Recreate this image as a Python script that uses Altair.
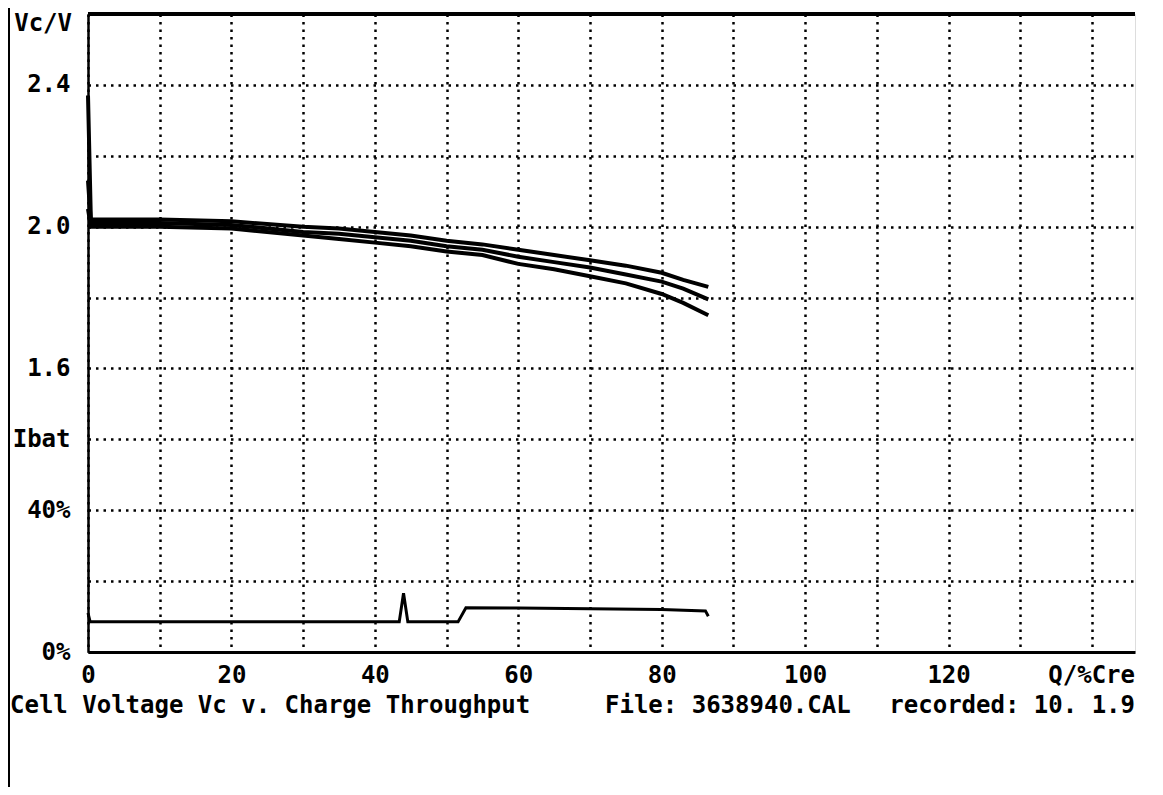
import altair as alt
import pandas as pd

# ---- data ----
q_volt = [0, 0.4, 10, 20, 30, 35, 40, 45, 50, 55, 60, 65, 70, 75, 80, 83, 86.5]
v_cell1 = [2.37, 2.02, 2.02, 2.015, 2.0, 1.995, 1.985, 1.975, 1.96, 1.95, 1.935, 1.92, 1.905, 1.89, 1.87, 1.85, 1.83]
v_cell2 = [2.13, 2.01, 2.01, 2.005, 1.985, 1.98, 1.97, 1.96, 1.945, 1.935, 1.915, 1.9, 1.885, 1.865, 1.845, 1.825, 1.795]
v_cell3 = [2.05, 2.0, 2.0, 1.995, 1.975, 1.965, 1.955, 1.945, 1.93, 1.92, 1.895, 1.88, 1.86, 1.84, 1.81, 1.785, 1.75]

q_curr = [0, 0.3, 43.4, 44.0, 44.6, 51.6, 52.7, 60, 70, 80, 86.1, 86.5]
i_pct = [11, 8.5, 8.5, 16.6, 8.5, 8.5, 12.5, 12.4, 12.2, 12.0, 11.6, 10.1]

x_grid = [0, 10, 20, 30, 40, 50, 60, 70, 80, 90, 100, 110, 120, 130, 140]
y_grid = [0.8, 1.0, 1.2, 1.4, 1.6, 1.8, 2.0, 2.2, 2.4, 2.6]
top_value = [2.6]

FONT = "DejaVu Sans Mono"
FS = 24

rows = []
for name, vals in [("c1", v_cell1), ("c2", v_cell2), ("c3", v_cell3)]:
    for q, v in zip(q_volt, vals):
        rows.append({"cell": name, "q": q, "v": v})
volt_df = pd.DataFrame(rows)
curr_df = pd.DataFrame({"q": q_curr, "i": i_pct})
top_df = pd.DataFrame({"v": top_value})

xscale = alt.Scale(domain=[0, 146], nice=False, zero=False)
vscale = alt.Scale(domain=[0.8, 2.6], nice=False, zero=False)

x_axis = alt.Axis(
    values=x_grid, title=None, ticks=False, tickSize=0,
    grid=True, gridDash=[2.5, 5], gridColor="black", gridWidth=2.5,
    domainColor="black", domainWidth=3,
    labelExpr="(datum.value % 20 == 0 && datum.value <= 120) ? datum.value : ''",
    labelFont=FONT, labelFontSize=FS, labelFontWeight="bold", labelColor="black",
    labelBaseline="top", labelPadding=11, labelFlush=False, labelOverlap=False,
)
y_axis = alt.Axis(
    values=y_grid, title=None, ticks=False, tickSize=0,
    grid=True, gridDash=[2.5, 5], gridColor="black", gridWidth=2.5,
    domainColor="black", domainWidth=2.5,
    labelExpr=("round(datum.value*10)==24 ? '2.4' : "
               "round(datum.value*10)==20 ? '2.0' : round(datum.value*10)==16 ? '1.6' : "
               "round(datum.value*10)==14 ? 'Ibat' : round(datum.value*10)==12 ? '40%' : "
               "round(datum.value*10)==8 ? '0%' : ''"),
    labelFont=FONT, labelFontSize=FS, labelFontWeight="bold", labelColor="black",
    labelAlign="right", labelPadding=18, labelFlush=False, labelOverlap=False,
)

volt_lines = alt.Chart(volt_df).mark_line(color="black", strokeWidth=4).encode(
    x=alt.X("q:Q", scale=xscale, axis=x_axis),
    y=alt.Y("v:Q", scale=vscale, axis=y_axis),
    detail="cell:N",
)
top_rule = alt.Chart(top_df).mark_rule(color="black", strokeWidth=4).encode(
    y=alt.Y("v:Q", scale=vscale),
)
volt_layer = alt.layer(volt_lines, top_rule)

curr_line = alt.Chart(curr_df).mark_line(color="black", strokeWidth=3).encode(
    x=alt.X("q:Q", scale=xscale, axis=x_axis),
    y=alt.Y("i:Q", scale=alt.Scale(domain=[0, 180], nice=False), axis=None),
)

def txt(s, x, y, align="left"):
    return alt.Chart(pd.DataFrame({"t": [s]})).mark_text(
        font=FONT, fontSize=FS, fontWeight="bold", color="black",
        align=align, baseline="middle",
    ).encode(text="t:N", x=alt.value(x), y=alt.value(y))

texts = [
    txt("Vc/V", -16, 10, "right"),
    txt("Q/%Cre", 1047, 662, "right"),
    txt("Cell Voltage Vc v. Charge Throughput", -78, 692),
    txt("File: 3638940.CAL", 517, 692),
    txt("recorded: 10. 1.9", 1047, 692, "right"),
]

frame = alt.Chart(pd.DataFrame({"a": [0]})).mark_rule(color="black", strokeWidth=2).encode(
    x=alt.value(-79), y=alt.value(-14), y2=alt.value(775)
)

chart = alt.layer(volt_layer, curr_line, frame, *texts).resolve_scale(y="independent").properties(
    width=1047, height=638,
    autosize=alt.AutoSizeParams(type="none"),
    padding={"left": 80, "top": 6, "right": 20, "bottom": 135},
).configure_view(strokeWidth=0, stroke="transparent").configure(background="white")

chart.save("out.html", embed_options={"renderer": "svg", "actions": False})
